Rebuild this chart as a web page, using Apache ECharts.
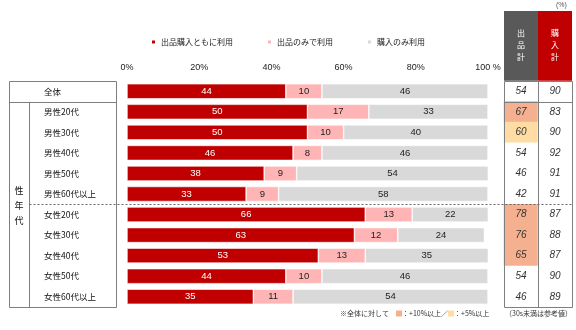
<!DOCTYPE html>
<html><head><meta charset="utf-8">
<script src="https://cdn.jsdelivr.net/npm/echarts@6/dist/echarts.min.js"></script>
<style>html,body{margin:0;padding:0;background:#fff}#c{width:576px;height:330px}</style>
</head><body><div id="c"></div>
<script>
const categories = ['全体','男性20代','男性30代','男性40代','男性50代','男性60代以上','女性20代','女性30代','女性40代','女性50代','女性60代以上'];
const seriesNames = ['出品購入ともに利用','出品のみで利用','購入のみ利用'];
const bothUse = [44,50,50,46,38,33,66,63,53,44,35];
const sellOnly = [10,17,10,8,9,9,13,12,13,10,11];
const buyOnly = [46,33,40,46,54,58,22,24,35,46,54];
const tableHeaders = ['出品計','購入計'];
const sellTotal = [54,67,60,54,46,42,78,76,65,54,46];
const buyTotal = [90,83,90,92,91,91,87,88,87,90,89];
const tickLabels = ['0%','20%','40%','60%','80%','100 %'];

const JP = '"Noto Sans CJK JP", "Liberation Sans", sans-serif';
const NUM = '"Liberation Sans", Arial, sans-serif';
const GT = 81, GH = 226, GB = GT + GH;
const rowH = GH / categories.length;
const PL = 127, PW = 361;
const TL = 504, TW = 68;
const C_RED = '#C00000', C_PINK = '#FFB5B5', C_GRAY = '#D9D9D9';
const C_HI10 = '#F4B08F', C_HI5 = '#FFDCA3';

function cellColor(v, base) {
  if (v - base >= 10) return C_HI10;
  if (v - base >= 5) return C_HI5;
  return '#fff';
}
const heat = [];
[sellTotal, buyTotal].forEach((arr, xi) => {
  arr.forEach((v, yi) => {
    heat.push({ value: [xi, yi, v], itemStyle: { color: cellColor(v, arr[0]) } });
  });
});

const chart = echarts.init(document.getElementById('c'), null, { renderer: 'canvas' });
const barLabel = (color) => ({ show: true, position: 'inside', fontSize: 9.5, fontFamily: NUM, color: color });
const lineStyle = { stroke: '#7f7f7f', lineWidth: 1 };
const yDash = GT + 6 * rowH;
const yFirst = GT + rowH;

chart.setOption({
  animation: false,
  backgroundColor: '#fff',
  legend: {
    top: 33, left: 145, itemWidth: 5, itemHeight: 5, itemGap: 33, icon: 'rect',
    textStyle: { fontSize: 8, color: '#222', fontFamily: JP },
    data: seriesNames
  },
  grid: [
    { left: PL, top: GT, width: PW, height: GH },
    { left: TL, top: GT, width: TW, height: GH }
  ],
  xAxis: [
    { gridIndex: 0, type: 'value', min: 0, max: 100, interval: 20, position: 'top',
      axisLine: { show: false }, axisTick: { show: false }, splitLine: { show: false },
      axisLabel: { margin: 9, fontSize: 9, color: '#222', fontFamily: NUM,
        formatter: (v) => tickLabels[Math.round(v / 20)] } },
    { gridIndex: 1, type: 'category', data: tableHeaders, position: 'top',
      axisLine: { show: false }, axisTick: { show: false }, splitLine: { show: false },
      axisLabel: { margin: 18, fontSize: 8, lineHeight: 12, color: '#fff', fontFamily: JP,
        formatter: (v) => v.split('').join('\n') } }
  ],
  yAxis: [
    { gridIndex: 0, type: 'category', data: categories, inverse: true,
      axisLine: { show: false }, axisTick: { show: false },
      axisLabel: { align: 'left', margin: PL - 44, fontSize: 8.5, color: '#111', fontFamily: JP } },
    { gridIndex: 1, type: 'category', data: categories, inverse: true, show: false }
  ],
  series: [
    { name: seriesNames[0], type: 'bar', stack: 'a', data: bothUse, barWidth: 15,
      itemStyle: { color: C_RED, borderColor: '#fff', borderWidth: 0.6 }, label: barLabel('#fff') },
    { name: seriesNames[1], type: 'bar', stack: 'a', data: sellOnly, barWidth: 15,
      itemStyle: { color: C_PINK, borderColor: '#fff', borderWidth: 0.6 }, label: barLabel('#222') },
    { name: seriesNames[2], type: 'bar', stack: 'a', data: buyOnly, barWidth: 15,
      itemStyle: { color: C_GRAY, borderColor: '#fff', borderWidth: 0.6 }, label: barLabel('#222') },
    { type: 'heatmap', xAxisIndex: 1, yAxisIndex: 1, data: heat,
      label: { show: true, fontSize: 10, fontStyle: 'italic', color: '#333', fontFamily: NUM,
        formatter: (p) => p.value[2] } }
  ],
  graphic: [
    { type: 'rect', shape: { x: TL, y: 11, width: TW / 2, height: GT - 11 }, style: { fill: '#595959' }, z: -1 },
    { type: 'rect', shape: { x: TL + TW / 2, y: 11, width: TW / 2, height: GT - 11 }, style: { fill: C_RED }, z: -1 },
    { type: 'text', x: 556, y: 2, style: { text: '(%)', fontSize: 7, fill: '#555', fontFamily: NUM } },
    // left table
    { type: 'rect', shape: { x: 9.5, y: GT + 0.5, width: 107, height: GH }, style: { fill: null, stroke: '#7f7f7f', lineWidth: 1 } },
    { type: 'line', shape: { x1: 9.5, y1: Math.round(yFirst) + 0.5, x2: 116.5, y2: Math.round(yFirst) + 0.5 }, style: lineStyle },
    { type: 'line', shape: { x1: 29.5, y1: Math.round(yFirst) + 0.5, x2: 29.5, y2: GB + 0.5 }, style: lineStyle },
    { type: 'text', x: 19, y: (yFirst + GB) / 2 + 1, style: { text: '性\n年\n代', fontSize: 9, lineHeight: 15, fill: '#111', fontFamily: JP, align: 'center', verticalAlign: 'middle' } },
    // right table
    { type: 'rect', shape: { x: TL + 0.5, y: GT + 0.5, width: TW, height: GH }, style: { fill: null, stroke: '#7f7f7f', lineWidth: 1 }, z: 10 },
    { type: 'line', shape: { x1: TL + TW / 2 + 0.5, y1: GT, x2: TL + TW / 2 + 0.5, y2: GB }, style: lineStyle, z: 10 },
    { type: 'line', shape: { x1: TL, y1: Math.round(yFirst) + 0.5, x2: TL + TW, y2: Math.round(yFirst) + 0.5 }, style: lineStyle, z: 10 },
    // dashed separator
    { type: 'line', shape: { x1: 29.5, y1: Math.round(yDash) + 0.5, x2: TL + TW, y2: Math.round(yDash) + 0.5 }, style: { stroke: '#666', lineWidth: 1, lineDash: [2, 2] }, z: 10 },
    // footnotes
    { type: 'text', x: 340, y: 310, style: { text: '※全体に対して　{a|}：+10%以上／{b|}：+5%以上', fontSize: 7, fill: '#333', fontFamily: JP,
        rich: { a: { width: 6, height: 6, backgroundColor: C_HI10 }, b: { width: 6, height: 6, backgroundColor: C_HI5 } } } },
    { type: 'text', x: 505, y: 310, style: { text: '（30s未満は参考値）', fontSize: 7, fill: '#333', fontFamily: JP } }
  ]
});
</script></body></html>
